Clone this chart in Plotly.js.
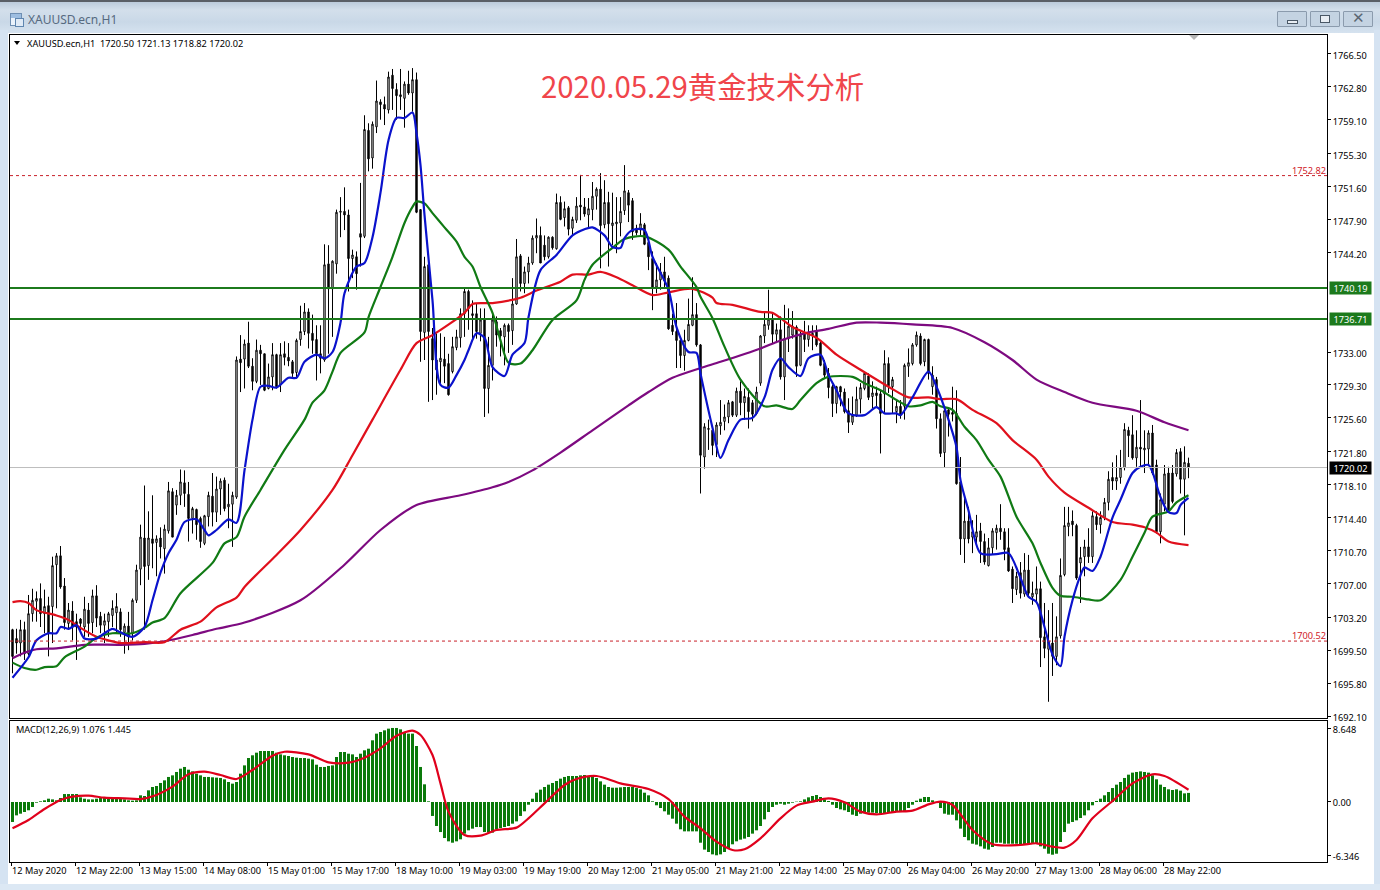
<!DOCTYPE html>
<html>
<head>
<meta charset="utf-8">
<script src="https://cdn.plot.ly/plotly-3.0.1.min.js"></script>
<style>
html,body{margin:0;padding:0;width:1380px;height:890px;overflow:hidden;background:#dce8f4;}
#bar{position:absolute;left:0;top:0;width:1380px;height:36px;background:linear-gradient(#bccbdb 0,#d3dfeb 8px,#c9d8e7 20px,#dbe7f3 36px);border-top:2px solid #5a5f66;box-sizing:border-box;}
#side{position:absolute;left:0;top:30px;width:8px;height:860px;background:#d5e3f2;}
#sideR{position:absolute;left:1374px;top:30px;width:6px;height:860px;background:#d5e3f2;}
#bottom{position:absolute;left:0;top:884px;width:1380px;height:6px;background:#dce8f4;}
#panel{position:absolute;left:8px;top:33px;width:1366px;height:851px;background:#fff;}
#chart{position:absolute;left:0;top:0;width:1380px;height:890px;}
#cap{position:absolute;left:28px;top:11px;font:12px "Noto Sans",sans-serif;color:#566a80;}
#ico{position:absolute;left:10px;top:13px;width:10px;height:11px;border:1px solid #6f8fb3;background:linear-gradient(#9dbde0 0,#9dbde0 4px,#eaf2fb 4px);}
#ico2{position:absolute;left:15px;top:18px;width:7px;height:7px;border:1px solid #5f86b0;background:#dfeaf6;}
.btn{position:absolute;top:11px;height:16px;border:1px solid #8b9bad;background:#c4d3e2;box-sizing:border-box;border-radius:1px;}
.btn i{position:absolute;border:1px solid #4a5866;background:#e9eef4;box-sizing:border-box;}
#tri{position:absolute;left:14px;top:41px;width:0;height:0;border-left:3.5px solid transparent;border-right:3.5px solid transparent;border-top:4px solid #000;}
#mark{position:absolute;left:1189px;top:35px;width:0;height:0;border-left:5px solid transparent;border-right:5px solid transparent;border-top:5px solid #b5b5b5;}
</style>
</head>
<body>
<div id="bar"></div><div id="side"></div><div id="sideR"></div><div id="bottom"></div><div id="panel"></div>
<div id="ico"></div><div id="ico2"></div><div id="cap">XAUUSD.ecn,H1</div>
<div class="btn" style="left:1277px;width:30px"><i style="left:9px;top:8px;width:11px;height:4px"></i></div>
<div class="btn" style="left:1310px;width:30px"><i style="left:9px;top:3px;width:10px;height:8px"></i></div>
<div class="btn" style="left:1343px;width:30px"><span style="position:absolute;left:8px;top:-3px;font:bold 15px 'DejaVu Sans';color:#5b6774">✕</span></div>
<div id="chart"></div>
<div id="tri"></div><div id="mark"></div>
<script>
const opens=[
1701.8,1700.8,1700.3,1701.8,1699.1,1703.6,1705.0,1705.3,1703.6,1704.5,
1704.4,1709.1,1710.1,1706.7,1702.5,1703.9,1702.7,1703.0,1702.1,1704.0,
1702.6,1705.6,1703.3,1702.3,1702.7,1703.4,1703.7,1703.8,1701.5,1702.2,
1701.4,1705.1,1708.6,1712.1,1709.0,1712.0,1711.6,1712.1,1710.9,1712.9,
1717.3,1715.8,1716.9,1718.3,1717.0,1714.3,1715.3,1714.3,1711.5,1714.5,
1716.8,1715.0,1717.6,1718.6,1715.6,1715.9,1716.7,1732.2,1732.2,1734.0,
1731.4,1729.7,1733.2,1732.8,1728.9,1730.2,1732.7,1729.3,1732.8,1732.4,
1731.9,1730.7,1734.4,1735.3,1737.5,1735.1,1734.4,1732.8,1732.1,1742.9,
1740.1,1742.9,1748.7,1748.8,1748.4,1743.5,1743.7,1746.3,1746.0,1757.9,
1754.8,1758.3,1761.1,1760.8,1760.2,1764.1,1762.5,1761.9,1761.5,1763.1,
1762.1,1763.6,1749.0,1735.2,1742.8,1734.5,1732.1,1731.9,1732.2,1731.7,
1730.8,1733.5,1734.6,1737.3,1739.8,1737.3,1737.3,1735.1,1736.6,1728.9,
1731.5,1736.4,1735.4,1734.7,1736.0,1735.4,1738.4,1743.8,1740.7,1742.0,
1743.0,1745.8,1746.1,1745.0,1743.7,1745.9,1744.6,1749.8,1748.1,1749.2,
1746.9,1747.8,1749.5,1749.3,1748.4,1749.0,1750.5,1751.3,1747.3,1749.8,
1747.2,1747.4,1747.5,1748.9,1750.9,1750.0,1746.9,1746.7,1747.3,1745.3,
1743.5,1740.3,1741.1,1742.0,1741.3,1736.0,1735.3,1734.3,1732.6,1734.3,
1736.0,1737.2,1733.8,1721.2,1724.3,1724.2,1722.6,1724.7,1725.2,1725.7,
1727.4,1725.9,1728.6,1727.3,1727.9,1727.3,1726.1,1729.5,1734.8,1736.0,
1736.7,1735.0,1735.5,1730.2,1734.5,1734.9,1735.8,1731.5,1735.1,1734.4,
1734.9,1735.3,1734.0,1731.7,1730.6,1729.1,1727.2,1729.1,1728.5,1726.4,
1725.1,1725.9,1727.7,1728.9,1730.3,1728.0,1728.4,1728.3,1728.3,1731.7,
1729.1,1726.3,1726.9,1726.9,1731.4,1731.7,1733.8,1734.8,1731.9,1734.4,
1729.1,1729.9,1725.5,1721.7,1726.5,1726.2,1726.1,1718.4,1712.0,1714.0,
1712.2,1712.2,1712.9,1711.7,1709.0,1711.0,1712.7,1713.2,1712.8,1711.0,
1708.6,1706.3,1708.2,1705.8,1708.5,1705.5,1705.8,1706.4,1701.0,1699.6,
1700.3,1698.8,1701.1,1708.0,1713.4,1714.0,1713.5,1709.3,1710.0,1711.1,
1710.0,1714.5,1713.6,1714.4,1716.1,1718.9,1718.5,1718.9,1720.0,1724.2,
1723.7,1721.1,1722.3,1722.0,1722.1,1723.9,1720.3,1712.8,1715.9,1719.4,
1719.4,1719.3,1721.8,1718.7,1720.50];
const highs=[
1701.9,1701.9,1702.9,1702.7,1705.7,1706.4,1706.1,1707.0,1706.3,1705.5,
1710.0,1710.4,1711.2,1707.6,1704.8,1705.0,1703.6,1703.1,1705.5,1704.8,
1706.3,1706.8,1703.8,1703.6,1703.8,1705.1,1705.9,1704.2,1702.5,1703.8,
1705.3,1709.1,1713.6,1718.0,1715.1,1716.9,1712.4,1713.3,1713.6,1718.4,
1717.7,1717.5,1719.8,1719.7,1718.4,1715.6,1715.4,1714.5,1714.7,1717.3,
1719.4,1719.0,1718.8,1718.9,1718.2,1717.3,1732.5,1734.9,1734.4,1736.4,
1732.3,1734.4,1733.8,1732.8,1731.7,1734.0,1732.8,1734.0,1734.2,1734.0,
1732.1,1734.5,1738.2,1738.5,1737.9,1737.2,1736.0,1736.0,1745.1,1745.0,
1743.3,1749.0,1750.4,1751.5,1749.0,1744.5,1744.3,1752.0,1759.6,1758.7,
1758.9,1763.5,1761.4,1761.7,1764.5,1764.8,1763.2,1764.8,1763.4,1764.6,
1764.9,1764.4,1749.0,1743.7,1744.1,1735.7,1735.1,1735.1,1734.7,1732.8,
1734.7,1735.5,1737.9,1740.3,1740.0,1738.8,1738.5,1737.9,1737.9,1734.7,
1737.3,1737.0,1735.7,1736.2,1736.2,1741.3,1745.7,1744.0,1742.6,1743.7,
1746.1,1748.0,1747.1,1746.1,1746.0,1746.0,1750.8,1750.5,1749.9,1749.4,
1748.2,1750.4,1752.9,1750.3,1750.3,1752.1,1751.5,1753.1,1752.3,1751.0,
1750.9,1750.4,1750.4,1754.0,1751.2,1750.3,1747.3,1748.6,1747.5,1745.4,
1744.3,1743.0,1743.0,1743.7,1741.6,1737.3,1738.5,1734.7,1735.5,1739.0,
1741.4,1738.5,1733.9,1725.0,1725.4,1724.6,1725.1,1727.6,1727.1,1727.6,
1727.5,1729.0,1729.7,1728.9,1728.9,1727.6,1729.1,1734.9,1737.4,1740.0,
1737.4,1736.2,1737.0,1738.3,1737.9,1737.6,1736.0,1735.3,1736.5,1736.0,
1736.0,1736.0,1734.2,1732.1,1731.2,1729.3,1729.2,1729.2,1728.9,1727.8,
1728.0,1729.1,1729.5,1730.7,1730.6,1729.7,1729.1,1728.7,1733.2,1732.4,
1730.2,1727.6,1727.6,1731.7,1733.4,1734.0,1735.3,1735.1,1734.5,1734.5,
1731.4,1730.2,1726.1,1726.5,1726.7,1729.1,1728.7,1721.2,1716.7,1715.6,
1714.1,1714.7,1713.8,1712.6,1712.1,1713.2,1713.6,1715.9,1713.2,1713.2,
1708.9,1708.3,1709.4,1710.4,1710.2,1707.2,1708.9,1707.2,1704.8,1704.0,
1704.8,1703.3,1709.8,1715.6,1715.6,1715.2,1713.7,1711.1,1711.9,1713.2,
1715.1,1715.1,1715.1,1716.6,1719.6,1720.6,1721.4,1722.0,1725.0,1724.6,
1725.9,1724.2,1727.6,1724.2,1724.2,1724.8,1720.9,1717.1,1720.3,1720.1,
1720.3,1722.1,1722.2,1722.4,1721.13];
const lows=[
1696.9,1699.1,1698.8,1698.4,1698.9,1702.7,1702.7,1702.1,1701.4,1698.8,
1700.3,1704.2,1706.4,1701.8,1701.8,1700.6,1698.4,1701.6,1701.0,1701.0,
1701.4,1702.1,1701.4,1700.3,1701.0,1702.1,1701.4,1701.0,1699.1,1699.5,
1700.6,1704.8,1706.8,1701.8,1707.4,1708.7,1707.8,1709.8,1708.1,1712.6,
1712.2,1714.7,1715.8,1715.6,1711.7,1712.6,1711.9,1711.0,1711.3,1713.4,
1713.4,1713.9,1714.7,1715.1,1713.2,1711.1,1716.5,1728.5,1728.9,1731.2,
1728.7,1729.5,1729.3,1728.6,1728.8,1728.7,1728.9,1728.5,1731.5,1731.4,
1730.2,1730.0,1733.7,1734.9,1733.4,1732.8,1729.8,1730.6,1731.9,1732.8,
1734.7,1741.8,1745.9,1746.7,1739.8,1741.3,1740.0,1742.6,1745.8,1753.3,
1753.6,1757.6,1759.1,1758.5,1759.8,1760.2,1759.1,1760.2,1758.2,1761.9,
1760.0,1748.6,1731.9,1732.1,1727.4,1727.6,1728.2,1729.5,1729.5,1728.1,
1730.6,1733.2,1733.5,1734.7,1735.5,1734.3,1734.5,1734.2,1725.7,1726.1,
1729.8,1733.6,1732.5,1731.5,1732.9,1733.8,1738.3,1739.8,1739.6,1740.7,
1742.8,1744.1,1743.0,1743.3,1743.5,1744.5,1744.5,1747.8,1747.1,1746.1,
1746.1,1747.5,1747.8,1748.2,1746.9,1747.8,1749.0,1742.4,1746.9,1742.6,
1745.0,1744.1,1746.0,1748.4,1747.6,1745.6,1746.1,1746.1,1745.0,1742.2,
1737.7,1739.6,1740.0,1740.3,1735.5,1734.9,1731.2,1731.2,1730.9,1734.2,
1735.9,1733.6,1717.1,1719.9,1722.0,1721.4,1721.2,1723.7,1724.2,1725.0,
1725.7,1725.7,1725.9,1725.4,1724.4,1725.2,1725.9,1729.2,1734.0,1735.5,
1734.0,1734.0,1729.9,1727.6,1733.0,1734.5,1730.2,1731.4,1733.0,1733.6,
1733.2,1733.6,1731.4,1730.0,1727.8,1725.7,1726.1,1726.9,1726.1,1723.9,
1724.8,1725.7,1726.1,1728.7,1727.6,1726.7,1726.9,1721.6,1726.1,1728.4,
1726.1,1725.0,1725.5,1725.4,1730.2,1731.5,1733.6,1731.5,1731.4,1729.9,
1728.2,1724.4,1721.2,1720.0,1723.5,1725.2,1718.1,1710.2,1709.3,1711.5,
1710.4,1711.1,1709.3,1709.1,1708.9,1710.2,1710.8,1711.9,1709.6,1708.3,
1704.8,1705.7,1705.3,1705.5,1705.5,1704.6,1705.0,1697.6,1698.6,1693.7,
1696.6,1697.8,1700.8,1707.8,1712.3,1712.3,1707.4,1704.8,1707.8,1709.3,
1709.3,1713.0,1712.6,1714.1,1715.2,1717.5,1717.5,1718.2,1719.7,1721.2,
1720.9,1720.1,1720.1,1719.4,1720.3,1719.2,1712.6,1711.5,1715.1,1715.1,
1716.0,1719.0,1717.1,1712.4,1718.82];
const closes=[
1698.8,1700.3,1701.8,1699.1,1703.6,1705.1,1705.3,1703.6,1704.4,1701.4,
1709.0,1710.1,1706.6,1702.6,1704.0,1702.1,1702.1,1702.5,1704.1,1702.5,
1705.6,1703.1,1702.3,1702.8,1703.6,1704.2,1704.4,1701.8,1702.2,1701.0,
1705.1,1708.5,1712.2,1708.9,1712.1,1711.5,1712.0,1711.1,1713.1,1717.4,
1712.2,1716.9,1718.4,1717.1,1714.3,1715.4,1713.6,1711.7,1714.6,1716.9,
1715.0,1717.6,1718.5,1715.4,1715.9,1716.9,1732.1,1731.8,1733.9,1731.4,
1729.7,1733.2,1732.8,1728.7,1730.2,1732.7,1729.1,1732.7,1732.4,1732.0,
1730.6,1734.3,1735.3,1737.5,1735.1,1734.3,1732.8,1732.3,1742.8,1740.1,
1743.2,1748.7,1748.8,1748.4,1743.5,1743.9,1741.8,1745.9,1758.0,1754.7,
1758.6,1761.2,1760.8,1760.3,1763.9,1762.6,1761.8,1761.7,1763.1,1762.1,
1763.6,1748.7,1735.3,1742.6,1735.3,1732.1,1731.0,1732.3,1731.4,1728.2,
1733.6,1734.7,1737.3,1739.8,1737.9,1737.1,1735.3,1736.6,1728.9,1731.5,
1736.6,1734.9,1734.8,1736.0,1735.3,1738.4,1743.7,1740.7,1742.0,1743.0,
1745.8,1746.1,1743.0,1743.7,1745.9,1744.7,1749.8,1747.9,1749.1,1746.8,
1747.9,1749.4,1749.3,1748.5,1749.1,1750.5,1751.3,1747.2,1749.8,1747.4,
1747.5,1747.6,1748.8,1751.1,1749.5,1746.5,1746.4,1747.4,1745.1,1743.7,
1740.3,1741.1,1742.0,1741.0,1735.6,1735.3,1734.3,1732.6,1734.3,1736.1,
1737.2,1733.8,1721.4,1724.6,1724.4,1722.5,1724.8,1725.1,1725.7,1727.3,
1725.9,1728.6,1727.3,1728.0,1726.3,1726.0,1728.5,1734.8,1736.1,1736.7,
1735.0,1735.5,1730.2,1734.5,1735.9,1735.9,1731.4,1734.9,1734.4,1735.1,
1735.1,1733.8,1731.5,1730.4,1729.0,1727.2,1729.1,1728.5,1726.3,1725.1,
1725.9,1727.7,1729.0,1730.6,1727.9,1728.4,1728.1,1726.1,1731.7,1729.2,
1729.9,1726.9,1725.9,1731.5,1731.8,1733.8,1734.9,1731.7,1734.4,1730.6,
1730.4,1725.5,1721.6,1726.4,1726.0,1726.0,1718.2,1712.0,1714.0,1712.0,
1712.8,1712.8,1711.7,1709.4,1711.0,1712.9,1713.2,1712.8,1710.8,1708.4,
1706.4,1707.8,1705.9,1708.5,1705.9,1705.9,1706.4,1700.9,1699.7,1700.5,
1698.8,1701.0,1707.9,1713.5,1713.8,1713.6,1707.6,1709.9,1711.1,1710.0,
1714.6,1713.6,1714.4,1716.1,1718.7,1718.5,1718.9,1720.0,1724.3,1723.6,
1721.1,1722.3,1722.1,1722.2,1723.9,1719.4,1712.8,1716.4,1719.3,1715.2,
1716.2,1721.7,1718.7,1720.6,1720.02];

// Moving averages: bar number and price at readable turning points
const blueBars=[0,4,6,9,11,12,14,16,18,21,23,25,27,30,33,35,37,39,41,43,46,48,49,51,54,56,58,60,62,64,66,69,71,73,76,78,80,82,83,86,88,90,92,94,96,98,100,101,102,103,105,107,109,111,113,114,116,118,120,123,125,128,129,132,136,140,143,145,148,150,152,153,155,158,160,164,166,169,171,172,175,177,179,182,185,188,190,192,194,197,199,202,204,206,209,213,216,218,221,222,225,229,231,234,236,237,239,242,246,249,252,254,256,258,260,262,263,265,267,268,270,272,275,277,280,282,284,285,287,289,291,292,294];
const bluePrices=[1696.4,1698.7,1700.6,1701.4,1701.4,1702.1,1701.9,1702.3,1700.8,1700.8,1701.4,1701.9,1701.5,1701.0,1702.1,1705.1,1708.2,1710.4,1711.9,1713.9,1714.2,1713.0,1712.4,1713.0,1714.2,1713.8,1719.7,1725.4,1729.1,1729.2,1729.0,1730.1,1730.1,1731.9,1732.7,1732.3,1733.0,1736.3,1739.6,1742.6,1743.0,1745.9,1750.9,1756.8,1759.3,1759.3,1759.9,1757.6,1754.0,1748.4,1738.8,1729.3,1729.0,1730.4,1732.1,1733.2,1735.1,1734.6,1731.3,1730.3,1732.7,1734.0,1736.9,1742.2,1743.9,1746.1,1746.8,1747.0,1746.1,1744.8,1744.7,1745.8,1746.7,1746.7,1743.7,1740.0,1735.8,1733.0,1732.9,1730.6,1724.5,1721.1,1723.1,1725.4,1725.6,1727.9,1731.0,1732.3,1731.3,1730.3,1732.3,1732.7,1730.4,1728.7,1726.1,1725.9,1726.8,1726.1,1726.1,1725.9,1727.9,1730.8,1729.1,1725.4,1722.3,1718.6,1715.2,1710.4,1710.3,1710.4,1707.6,1705.5,1704.9,1702.1,1699.0,1697.7,1701.0,1705.1,1707.9,1708.8,1708.4,1710.0,1714.4,1716.4,1719.4,1720.1,1720.3,1719.5,1716.7,1715.0,1714.9,1715.8,1716.6];
const greenBars=[0,3,6,8,11,13,18,21,25,30,33,35,38,42,50,53,56,58,62,68,73,75,78,80,82,88,89,92,95,98,100,101,103,105,108,111,113,115,117,120,122,124,127,130,135,141,143,145,150,153,158,164,167,171,172,175,178,182,188,191,195,197,201,204,210,213,217,221,224,227,230,232,235,238,241,244,247,251,255,257,260,262,265,269,272,277,280,283,285,289,291,294];
const greenPrices=[1698.1,1697.5,1697.3,1697.6,1697.7,1698.7,1699.9,1700.9,1701.4,1701.4,1702.0,1702.6,1703.1,1705.9,1709.3,1711.5,1712.2,1714.5,1717.5,1722.0,1725.4,1727.3,1728.7,1730.8,1732.9,1735.2,1736.9,1740.3,1743.7,1747.5,1749.3,1749.9,1749.7,1748.6,1747.0,1745.4,1743.7,1742.6,1740.3,1737.4,1734.3,1731.8,1731.7,1733.2,1736.6,1738.8,1741.1,1742.8,1744.7,1745.7,1746.0,1744.5,1742.6,1740.3,1739.2,1736.8,1733.6,1729.9,1726.9,1727.0,1726.6,1727.6,1729.5,1730.2,1730.2,1729.5,1728.7,1727.6,1726.9,1727.0,1727.4,1726.9,1726.5,1724.6,1723.1,1720.9,1719.0,1714.5,1711.5,1709.3,1706.5,1705.6,1705.5,1705.2,1705.1,1707.4,1710.0,1712.7,1714.5,1715.1,1716.1,1716.9];
const redBars=[0,2,4,6,11,14,17,21,24,27,33,38,42,47,51,56,58,66,72,80,85,90,97,101,105,113,115,120,127,131,137,140,144,147,151,155,160,164,170,175,176,180,187,190,195,201,206,212,219,224,229,232,236,240,246,250,256,259,263,269,275,280,283,286,289,294];
const redPrices=[1704.9,1705.0,1704.8,1704.0,1703.4,1702.9,1702.0,1701.0,1700.6,1700.3,1700.4,1700.4,1701.8,1702.7,1704.3,1705.4,1706.6,1710.2,1713.0,1717.5,1721.4,1725.4,1731.0,1734.0,1734.9,1737.4,1738.4,1738.5,1739.1,1739.9,1740.9,1741.7,1741.7,1742.0,1741.4,1740.5,1739.4,1739.7,1740.1,1739.1,1738.5,1738.3,1737.5,1737.4,1735.8,1734.6,1732.7,1731.0,1729.1,1727.9,1727.9,1727.7,1727.7,1726.5,1725.0,1723.1,1720.9,1719.0,1717.2,1715.5,1713.9,1713.6,1713.3,1712.7,1711.7,1711.3];
const purpleBars=[0,3,6,11,18,27,33,38,45,51,58,72,83,92,101,112,120,124,130,137,145,154,159,165,172,177,187,192,198,204,211,217,225,235,243,250,256,263,270,281,288,294];
const purplePrices=[1698.6,1699.2,1699.6,1699.7,1700.1,1700.1,1700.2,1700.5,1701.2,1701.9,1702.6,1705.1,1709.1,1713.0,1715.8,1716.9,1717.8,1718.4,1719.7,1721.7,1724.2,1727.0,1728.5,1730.1,1731.2,1731.9,1733.4,1734.3,1735.1,1735.6,1736.3,1736.3,1736.1,1735.7,1734.1,1732.1,1729.9,1728.5,1727.3,1726.4,1725.1,1724.2];

// MACD histogram, one value per bar
const macdValues=[
-2.36,-1.58,-1.38,-1.18,-.98,-.59,-.08,.08,.2,.39,
.31,.2,.47,.94,.94,.94,.94,.55,.39,.31,
.31,.39,.47,.47,.47,.39,.39,.39,.31,.2,
.16,.2,.79,.71,1.38,1.77,1.89,2.25,2.56,2.96,
3.15,3.55,3.94,4.14,3.82,3.62,3.35,3.15,2.96,2.96,
2.92,2.88,2.84,2.68,2.36,2.17,2.36,3.35,4.33,5.2,
5.52,5.83,6.03,6.03,6.03,6.03,5.83,5.63,5.52,5.44,
5.32,5.24,5.2,5.2,5.12,5.04,4.41,4.14,4.14,4.26,
4.33,5.32,5.91,5.91,5.71,5.63,5.32,5.71,6.11,6.3,
7.29,8.08,8.27,8.47,8.67,8.75,8.75,8.59,8.27,8.08,
8.08,6.62,4.14,2.09,.08,-1.65,-2.84,-3.55,-4.26,-4.65,
-4.81,-4.65,-4.41,-3.74,-3.35,-3.15,-2.96,-2.96,-3.55,-3.62,
-3.62,-3.23,-3.07,-2.96,-2.84,-2.56,-2.29,-1.65,-1.1,-.32,
.39,1.1,1.46,1.77,2.05,2.25,2.48,2.76,2.96,3.07,
3.07,3.07,3.15,3.19,3.07,3.07,2.84,2.44,2.05,1.77,
1.69,1.69,1.73,1.77,1.77,1.77,1.65,1.5,1.1,.79,
.08,-.39,-.71,-1.1,-1.5,-1.97,-2.56,-3.23,-3.47,-3.47,
-3.47,-3.47,-4.81,-5.63,-5.91,-6.19,-6.3,-6.19,-5.91,-5.44,
-5,-4.65,-4.45,-4.33,-4.14,-3.74,-3.35,-2.84,-2.05,-1.18,
-.59,-.32,-.2,-.32,-.2,-.08,.04,.08,.31,.55,
.71,.83,.59,.31,.12,-.32,-.71,-.87,-.98,-1.18,
-1.5,-1.65,-1.38,-1.26,-1.26,-1.26,-1.3,-1.38,-1.3,-1.26,
-1.18,-1.18,-1.18,-1.18,-.71,-.32,.16,.39,.59,.59,
.2,-.08,-.71,-1.38,-1.5,-1.5,-2.17,-3.15,-4.14,-4.53,
-4.93,-5.04,-5.24,-5.52,-5.63,-5.32,-4.81,-4.81,-4.93,-4.93,
-4.93,-4.93,-5,-5,-4.93,-4.93,-4.93,-5.24,-5.52,-6.11,
-6.23,-6.11,-4.73,-3.55,-2.56,-2.36,-2.17,-1.89,-1.58,-.98,
-.39,.12,.39,.79,1.18,1.65,2.05,2.36,2.84,3.23,
3.47,3.55,3.62,3.55,3.47,3.15,2.68,2.05,1.77,1.5,
1.42,1.5,1.34,1.02,1.076];
const signalBars=[0,4,8,12,15,19,23,28,32,36,40,44,48,52,56,60,65,68,74,79,84,88,92,96,100,102,105,107,109,113,117,121,126,129,133,138,141,146,152,159,164,168,172,176,180,183,187,192,196,200,204,208,212,216,221,225,229,232,235,240,245,252,256,260,263,266,270,275,280,285,288,294];
const signalValues=[-3.11,-2.13,-.83,.24,.63,.75,.51,.43,.35,.83,1.81,3.27,3.58,3.19,2.72,3.78,5.47,5.94,5.63,4.69,4.65,5.24,6.34,7.83,8.43,7.91,5.55,2.2,-1.14,-3.9,-3.98,-3.31,-3.03,-1.93,-.16,2.01,2.72,3.07,2.2,1.54,.35,-1.73,-3.11,-4.69,-5.67,-5.59,-4.29,-1.93,-.43,.04,.43,-.04,-1.14,-1.46,-1.14,-1.02,-.28,.04,-.35,-3.31,-5.0,-5.08,-4.88,-5.28,-5.39,-4.49,-1.93,.12,2.2,3.27,3.07,1.445];

// Axis labels and levels
const priceTicks=[1766.50,1762.80,1759.10,1755.30,1751.60,1747.90,1744.20,1733.00,1729.30,1725.60,1721.80,1718.10,1714.40,1710.70,1707.00,1703.20,1699.50,1695.80,1692.10];
const macdTicks=[8.648,0,-6.346];
const macdTickText=["8.648","0.00","-6.346"];
const timeTickBars=[0,16,32,48,64,80,96,112,128,144,160,176,192,208,224,240,256,272,288];
const timeTickLabels=["12 May 2020","12 May 22:00","13 May 15:00","14 May 08:00","15 May 01:00","15 May 17:00","18 May 10:00","19 May 03:00","19 May 19:00","20 May 12:00","21 May 05:00","21 May 21:00","22 May 14:00","25 May 07:00","26 May 04:00","26 May 20:00","27 May 13:00","28 May 06:00","28 May 22:00"];
const greenLevels=[1740.19,1736.71];
const redLevels=[1752.82,1700.52];
const lastPrice=1720.02;

const bars=opens.map((_,i)=>i);
const F='"Noto Sans",sans-serif';
const fs=9.2;
const ma=(x,y,c)=>({type:'scatter',mode:'lines',x:x,y:y,xaxis:'x',yaxis:'y',line:{color:c,width:2.2,shape:'spline',smoothing:0.8},hoverinfo:'skip',showlegend:false});

const data=[
 {type:'candlestick',x:bars,open:opens,high:highs,low:lows,close:closes,xaxis:'x',yaxis:'y',showlegend:false,whiskerwidth:0,
  increasing:{line:{color:'#000',width:1},fillcolor:'#fff'},decreasing:{line:{color:'#000',width:1},fillcolor:'#000'}},
 ma(purpleBars,purplePrices,'#7d0a80'),
 ma(redBars,redPrices,'#e0101c'),
 ma(greenBars,greenPrices,'#107a14'),
 ma(blueBars,bluePrices,'#0a12cc'),
 {type:'bar',x:bars,y:macdValues,xaxis:'x2',yaxis:'y2',marker:{color:'#0a7a0a',line:{width:0}},width:0.75,showlegend:false},
 {type:'scatter',mode:'lines',x:signalBars,y:signalValues,xaxis:'x2',yaxis:'y2',line:{color:'#e0001c',width:2.2,shape:'spline',smoothing:0.8},showlegend:false}
];

const hline=(v,c,w,d)=>({type:'line',xref:'paper',yref:'y',x0:0,x1:1,y0:v,y1:v,line:{color:c,width:w,dash:d||'solid'},layer:'above'});
const shapes=[
 hline(lastPrice,'#bdbdbd',1),
 ...redLevels.map(v=>hline(v,'#c8202a',1,'3px,3px')),
 ...greenLevels.map(v=>hline(v,'#1c7a1c',2))
];
const W=1317;
const px=p=>(p-10)/W;
const annotations=[
 {xref:'paper',yref:'paper',x:px(702),y:(862-85)/827,text:'2020.05.29黄金技术分析',showarrow:false,xanchor:'center',yanchor:'middle',font:{family:'"Noto Sans CJK SC",sans-serif',size:29.4,color:'#f0454b'}},
 {xref:'paper',yref:'paper',x:px(24.5),y:(862-43)/827,text:'XAUUSD.ecn,H1&nbsp;&nbsp;1720.50 1721.13 1718.82 1720.02',showarrow:false,xanchor:'left',yanchor:'middle',font:{family:F,size:fs,color:'#000'}},
 {xref:'paper',yref:'paper',x:px(13.5),y:(862-729)/827,text:'MACD(12,26,9) 1.076 1.445',showarrow:false,xanchor:'left',yanchor:'middle',font:{family:F,size:fs,color:'#000'}},
 ...redLevels.map(v=>({xref:'paper',yref:'y',x:px(1328),y:v,text:v.toFixed(2),showarrow:false,xanchor:'right',yanchor:'bottom',yshift:-3,font:{family:F,size:fs,color:'#d0222a'}})),
 ...greenLevels.map(v=>({xref:'paper',yref:'y',x:px(1329),y:v,text:v.toFixed(2),showarrow:false,xanchor:'left',yanchor:'middle',width:41,height:12,borderpad:0,bgcolor:'#1c7a1c',font:{family:F,size:fs,color:'#fff'}})),
 {xref:'paper',yref:'y',x:px(1329),y:lastPrice,text:lastPrice.toFixed(2),showarrow:false,xanchor:'left',yanchor:'middle',width:41,height:12,borderpad:0,bgcolor:'#000',font:{family:F,size:fs,color:'#fff'}}
];
const ax={showgrid:false,zeroline:false,showline:true,linecolor:'#000',linewidth:1,mirror:true,fixedrange:true};
const xRange=[-0.625,328.625];
const layout={
 width:1380,height:890,autosize:false,paper_bgcolor:'rgba(0,0,0,0)',plot_bgcolor:'#fff',
 margin:{l:10,r:53,t:35,b:28,pad:0},showlegend:false,boxgap:0.5,hovermode:false,
 xaxis:{...ax,domain:[0,1],anchor:'y',range:xRange,rangeslider:{visible:false},showticklabels:false,ticks:''},
 yaxis:{...ax,domain:[0.17412,1],anchor:'x',side:'right',range:[1691.876,1768.618],tickmode:'array',tickvals:priceTicks,ticktext:priceTicks.map(v=>v.toFixed(2)),ticks:'outside',ticklen:3,tickcolor:'#000',ticklabelshift:2,tickfont:{family:F,size:fs,color:'#000'}},
 xaxis2:{...ax,domain:[0,1],anchor:'y2',range:xRange,tickmode:'array',tickvals:timeTickBars.map(b=>b-0.375),ticktext:timeTickLabels,ticks:'outside',ticklen:3,tickcolor:'#000',ticklabelposition:'outside right',tickangle:0,tickfont:{family:F,size:fs,color:'#000'}},
 yaxis2:{...ax,domain:[0,0.1705],anchor:'x2',side:'right',range:[-7.092,9.574],tickmode:'array',tickvals:macdTicks,ticktext:macdTickText,ticks:'outside',ticklen:3,tickcolor:'#000',ticklabelshift:1,tickfont:{family:F,size:fs,color:'#000'}},
 shapes:shapes,annotations:annotations
};
Plotly.newPlot('chart',data,layout,{displayModeBar:false,staticPlot:true});
</script>
</body>
</html>
